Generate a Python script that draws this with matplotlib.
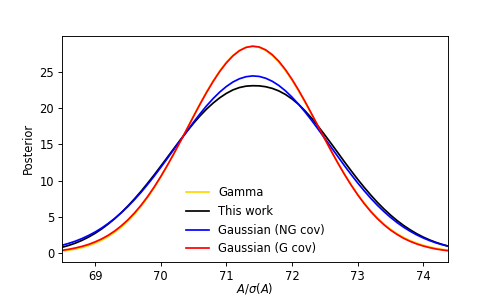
import matplotlib
matplotlib.use("Agg")
import matplotlib.pyplot as plt

x = [68.5, 68.6, 68.7, 68.8, 68.9, 69.0, 69.1, 69.2, 69.3, 69.4,
     69.5, 69.6, 69.7, 69.8, 69.9, 70.0, 70.1, 70.2, 70.3, 70.4,
     70.5, 70.6, 70.7, 70.8, 70.9, 71.0, 71.1, 71.2, 71.3, 71.4,
     71.5, 71.6, 71.7, 71.8, 71.9, 72.0, 72.1, 72.2, 72.3, 72.4,
     72.5, 72.6, 72.7, 72.8, 72.9, 73.0, 73.1, 73.2, 73.3, 73.4,
     73.5, 73.6, 73.7, 73.8, 73.9, 74.0, 74.1, 74.2, 74.3, 74.4]

gamma = [0.30, 0.42, 0.58, 0.79, 1.05, 1.39, 1.80, 2.30, 2.90, 3.61,
         4.44, 5.39, 6.47, 7.68, 9.02, 10.48, 12.05, 13.70, 15.42, 17.17,
         18.93, 20.65, 22.29, 23.81, 25.18, 26.35, 27.29, 27.98, 28.40, 28.53,
         28.39, 27.96, 27.27, 26.34, 25.19, 23.86, 22.38, 20.79, 19.12, 17.43,
         15.73, 14.06, 12.45, 10.92, 9.48, 8.15, 6.94, 5.85, 4.89, 4.05,
         3.32, 2.71, 2.19, 1.76, 1.40, 1.11, 0.87, 0.68, 0.53, 0.41]

this_work = [0.83, 1.09, 1.40, 1.78, 2.23, 2.75, 3.35, 4.03, 4.78, 5.61,
             6.52, 7.50, 8.54, 9.65, 10.80, 12.00, 13.21, 14.43, 15.64, 16.80,
             17.92, 18.95, 19.89, 20.72, 21.44, 22.04, 22.52, 22.85, 23.04, 23.10,
             23.08, 22.96, 22.73, 22.38, 21.90, 21.28, 20.53, 19.63, 18.61, 17.49,
             16.31, 15.09, 13.85, 12.60, 11.39, 10.21, 9.09, 8.03, 7.03, 6.12,
             5.28, 4.52, 3.84, 3.24, 2.70, 2.23, 1.83, 1.48, 1.19, 0.94]

gauss_ng = [1.11, 1.37, 1.67, 2.03, 2.45, 2.93, 3.48, 4.11, 4.81, 5.59,
            6.45, 7.39, 8.40, 9.49, 10.63, 11.83, 13.06, 14.32, 15.59, 16.84,
            18.07, 19.24, 20.34, 21.34, 22.23, 22.99, 23.61, 24.06, 24.34, 24.45,
            24.38, 24.13, 23.71, 23.13, 22.40, 21.53, 20.55, 19.47, 18.31, 17.09,
            15.84, 14.58, 13.32, 12.07, 10.87, 9.71, 8.62, 7.59, 6.63, 5.76,
            4.96, 4.24, 3.60, 3.04, 2.54, 2.11, 1.74, 1.42, 1.16, 0.93]

gauss_g = [0.41, 0.55, 0.73, 0.95, 1.22, 1.57, 1.98, 2.48, 3.08, 3.79,
           4.61, 5.55, 6.62, 7.81, 9.13, 10.57, 12.11, 13.73, 15.42, 17.14,
           18.87, 20.57, 22.19, 23.70, 25.07, 26.25, 27.21, 27.93, 28.38, 28.55,
           28.44, 28.04, 27.37, 26.46, 25.32, 23.99, 22.50, 20.90, 19.21, 17.49,
           15.76, 14.06, 12.42, 10.87, 9.41, 8.07, 6.85, 5.75, 4.79, 3.94,
           3.21, 2.60, 2.07, 1.64, 1.29, 1.00, 0.77, 0.58, 0.44, 0.33]

labels = ["Gamma", "This work", "Gaussian (NG cov)", "Gaussian (G cov)"]
colors = ["#FFD700", "black", "blue", "red"]

fig = plt.figure(figsize=(6, 299 / 83), dpi=83)
ax = fig.add_axes([0.125, 0.125, 0.775, 0.755])

for series, lab, col in zip([gamma, this_work, gauss_ng, gauss_g], labels, colors):
    ax.plot(x, series, color=col, lw=1.5, label=lab)

ax.set_xlim(68.5, 74.38)
ax.set_ylim(-1.15, 29.97)
ax.set_xlabel(r"$A/\sigma(A)$", labelpad=-1.5)
ax.set_ylabel("Posterior")
ax.legend(loc="lower center", bbox_to_anchor=(0.5, -0.018), frameon=False)

fig.savefig("out.png", dpi=83)
